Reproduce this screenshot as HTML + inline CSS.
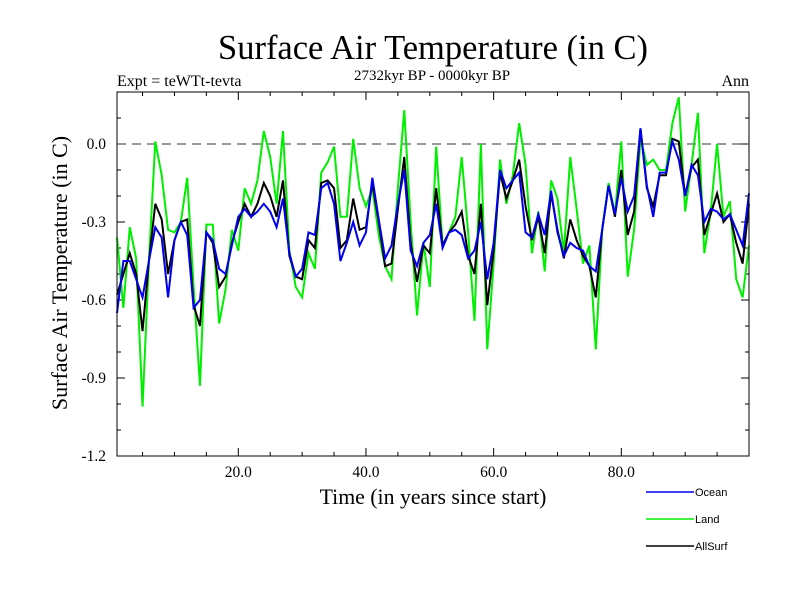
<!DOCTYPE html>
<html><head><meta charset="utf-8"><style>
html,body{margin:0;padding:0;background:#fff;}
svg{display:block;}
.serif{font-family:"Liberation Serif",serif;}
.sans{font-family:"Liberation Sans",sans-serif;}
</style></head><body>
<svg id="chart" width="800" height="600" viewBox="0 0 800 600">
<rect width="800" height="600" fill="#fff"/>
<text class="serif" x="433" y="59" font-size="34.5" text-anchor="middle">Surface Air Temperature (in C)</text>
<text class="serif" x="117" y="86" font-size="16">Expt = teWTt-tevta</text>
<text class="serif" x="432" y="80" font-size="15" text-anchor="middle">2732kyr BP - 0000kyr BP</text>
<text class="serif" x="749" y="86" font-size="16" text-anchor="end">Ann</text>
<text class="serif" x="0" y="0" font-size="22" text-anchor="middle" transform="translate(67,273) rotate(-90)">Surface Air Temperature (in C)</text>
<text class="serif" x="433" y="504" font-size="21.8" text-anchor="middle">Time (in years since start)</text>
<g id="ticks"></g>
<g id="series"></g>
<rect x="117" y="92" width="632" height="364" fill="none" stroke="#000" stroke-width="1"/>
<g id="legend"></g>
</svg>
<script>
const years = Array.from({length:100},(_,i)=>i+1);
const land = [-0.36,-0.63,-0.32,-0.44,-1.01,-0.45,0.01,-0.12,-0.33,-0.34,-0.30,-0.13,-0.55,-0.93,-0.31,-0.31,-0.69,-0.56,-0.33,-0.41,-0.17,-0.23,-0.14,0.05,-0.05,-0.23,0.05,-0.41,-0.55,-0.59,-0.42,-0.48,-0.11,-0.07,-0.01,-0.28,-0.28,0.02,-0.17,-0.24,-0.17,-0.35,-0.47,-0.52,-0.17,0.13,-0.30,-0.66,-0.38,-0.55,-0.01,-0.39,-0.34,-0.28,-0.05,-0.34,-0.68,0.0,-0.79,-0.46,-0.06,-0.23,-0.12,0.08,-0.08,-0.42,-0.26,-0.49,-0.14,-0.21,-0.42,-0.05,-0.25,-0.46,-0.39,-0.79,-0.33,-0.15,-0.27,0.01,-0.51,-0.33,0.02,-0.08,-0.06,-0.10,-0.10,0.08,0.18,-0.26,-0.08,0.12,-0.42,-0.26,0.0,-0.28,-0.22,-0.52,-0.59,-0.39];
const allsurf = [-0.58,-0.50,-0.42,-0.50,-0.72,-0.45,-0.23,-0.29,-0.50,-0.37,-0.30,-0.29,-0.62,-0.70,-0.34,-0.38,-0.55,-0.51,-0.38,-0.30,-0.23,-0.28,-0.23,-0.15,-0.20,-0.28,-0.14,-0.43,-0.51,-0.52,-0.37,-0.40,-0.15,-0.14,-0.17,-0.40,-0.37,-0.21,-0.33,-0.32,-0.15,-0.30,-0.47,-0.46,-0.25,-0.05,-0.38,-0.53,-0.39,-0.42,-0.17,-0.39,-0.34,-0.31,-0.26,-0.43,-0.50,-0.23,-0.62,-0.41,-0.11,-0.21,-0.14,-0.06,-0.24,-0.37,-0.28,-0.42,-0.19,-0.33,-0.44,-0.29,-0.37,-0.43,-0.47,-0.59,-0.33,-0.16,-0.28,-0.10,-0.35,-0.26,0.06,-0.17,-0.24,-0.12,-0.12,0.02,0.01,-0.20,-0.09,-0.06,-0.35,-0.27,-0.19,-0.30,-0.27,-0.38,-0.46,-0.23];
const ocean = [-0.65,-0.45,-0.45,-0.52,-0.59,-0.45,-0.32,-0.36,-0.59,-0.37,-0.30,-0.35,-0.63,-0.60,-0.34,-0.37,-0.48,-0.50,-0.39,-0.28,-0.25,-0.28,-0.26,-0.23,-0.26,-0.32,-0.21,-0.42,-0.51,-0.48,-0.34,-0.35,-0.17,-0.15,-0.23,-0.45,-0.38,-0.30,-0.39,-0.34,-0.13,-0.29,-0.44,-0.39,-0.23,-0.10,-0.41,-0.47,-0.38,-0.35,-0.23,-0.40,-0.34,-0.33,-0.35,-0.44,-0.41,-0.30,-0.52,-0.38,-0.10,-0.17,-0.14,-0.11,-0.34,-0.36,-0.27,-0.35,-0.18,-0.34,-0.43,-0.38,-0.40,-0.41,-0.47,-0.49,-0.33,-0.16,-0.27,-0.13,-0.26,-0.20,0.06,-0.16,-0.28,-0.11,-0.11,0.01,-0.06,-0.20,-0.08,-0.12,-0.30,-0.25,-0.26,-0.29,-0.27,-0.33,-0.39,-0.19];
const yTickLabels = ["0.0","-0.3","-0.6","-0.9","-1.2"];
const yTickValues = [0.0,-0.3,-0.6,-0.9,-1.2];
const xTickLabels = ["20.0","40.0","60.0","80.0"];
const xTickValues = [20,40,60,80];

const NS="http://www.w3.org/2000/svg";
const X0=117,X1=749,Y0=92,Y1=456;
const xMin=1,xMax=100,yMin=-1.2,yMax=0.2;
function xs(v){return X0+(v-xMin)/(xMax-xMin)*(X1-X0);}
function ys(v){return Y1-(v-yMin)/(yMax-yMin)*(Y1-Y0);}
function mk(tag,attrs,parent){const e=document.createElementNS(NS,tag);for(const k in attrs)e.setAttribute(k,attrs[k]);parent.appendChild(e);return e;}

const ticks=document.getElementById('ticks');
for(let i=-12;i<=2;i++){
  const v=i/10, y=ys(v);
  const major = (i%3===0);
  const len = major?8:4;
  const l1=mk('line',{x1:X0,y1:y,x2:X0+len,y2:y,stroke:'#000','stroke-width':1},ticks);
  
  
  const l2=mk('line',{x1:X1,y1:y,x2:X1-len,y2:y,stroke:'#000','stroke-width':1},ticks);
  
  
}
yTickValues.forEach((v,i)=>{
  const t=mk('text',{x:106,y:ys(v)+5,'font-size':15.5,'text-anchor':'end','class':'serif'},ticks);
  t.textContent=yTickLabels[i];
  
  
});
for(let v=5;v<=100;v+=5){
  const x=xs(v), major=(v%20===0), len=major?8:4;
  const a=mk('line',{x1:x,y1:Y1,x2:x,y2:Y1-len,stroke:'#000','stroke-width':1},ticks);
  
  
  const b=mk('line',{x1:x,y1:Y0,x2:x,y2:Y0+len,stroke:'#000','stroke-width':1},ticks);
  
  
}
xTickValues.forEach((v,i)=>{
  const t=mk('text',{x:xs(v),y:477,'font-size':15.5,'text-anchor':'middle','class':'serif'},ticks);
  t.textContent=xTickLabels[i];
  
  
});
const zl=mk('line',{x1:X0,y1:ys(0),x2:X1,y2:ys(0),stroke:'#777','stroke-width':1.5,'stroke-dasharray':'9,6'},ticks);



const series=document.getElementById('series');
function line(vals,color,name){
  const d=vals.map((v,i)=>(i?'L':'M')+xs(years[i]).toFixed(2)+','+ys(v).toFixed(2)).join(' ');
  const p=mk('path',{d:d,fill:'none',stroke:color,'stroke-width':2,'stroke-linejoin':'miter'},series);
  
  
}
line(land,'#00ee00','land-line');
line(allsurf,'#000000','allsurf-line');
line(ocean,'#0000ee','ocean-line');

const legend=document.getElementById('legend');
[['Ocean','#0000ee',492,'legend-entry-ocean'],['Land','#00ee00',519,'legend-entry-land'],['AllSurf','#000000',546,'legend-entry-allsurf']].forEach(r=>{
  const g=mk('g',{},legend);
  
  
  mk('line',{x1:646,y1:r[2],x2:694,y2:r[2],stroke:r[1],'stroke-width':1.5},g);
  const t=mk('text',{x:695,y:r[2]+4,'font-size':11,'class':'sans'},g);
  t.textContent=r[0];
});
</script>
</body></html>
